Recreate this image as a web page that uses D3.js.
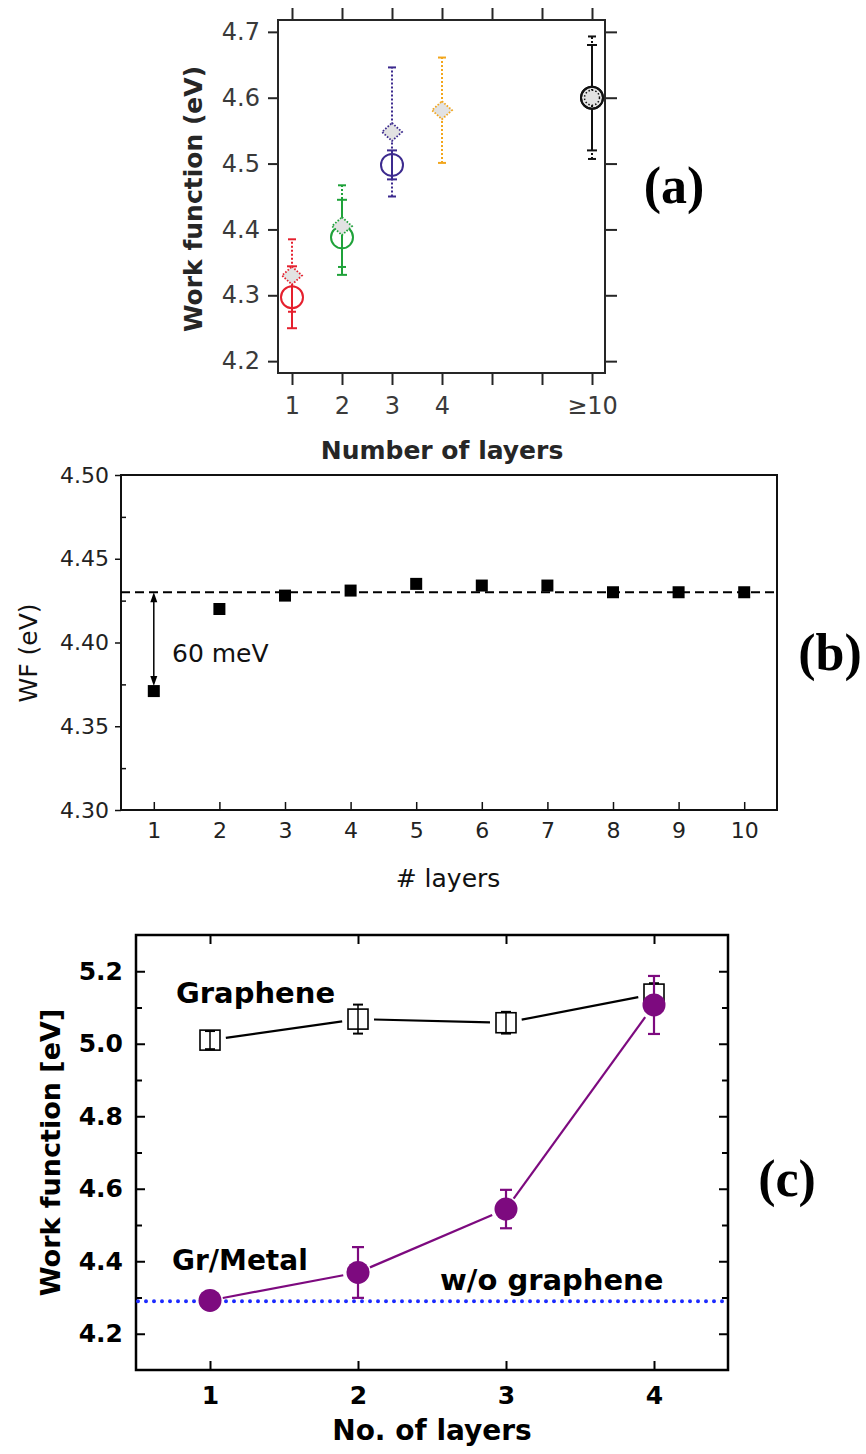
<!DOCTYPE html>
<html><head><meta charset="utf-8">
<script src="https://cdn.jsdelivr.net/npm/d3@7"></script>
<style>
html,body{margin:0;padding:0;background:#fff;}
svg{display:block;}
</style></head>
<body>
<svg id="chart" width="866" height="1454"></svg>
<script>
// ---------- Panel (a) data ----------
const aTickPos = [1, 2, 3, 4, 5, 6, 7];
const aTickLabels = ["1", "2", "3", "4", "", "", "\u226510"];
const aYTicks = [4.2, 4.3, 4.4, 4.5, 4.6, 4.7];
const aColors = ["#e5202e", "#1fa23a", "#3c2a8e", "#f2a61d", "#111111"];
const aCircleX = [1, 2, 3, 7];
const aCircleVal = [4.297, 4.388, 4.498, 4.600];
const aCircleErr = [0.047, 0.057, 0.022, 0.080];
const aCircleColor = [0, 1, 2, 4];
const aDiamondX = [1, 2, 3, 4, 7];
const aDiamondVal = [4.330, 4.405, 4.548, 4.581, 4.600];
const aDiamondErr = [0.055, 0.062, 0.098, 0.080, 0.093];
const aDiamondColor = [0, 1, 2, 3, 4];

// ---------- Panel (b) data ----------
const bLayers = [1, 2, 3, 4, 5, 6, 7, 8, 9, 10];
const bWF = [4.371, 4.420, 4.428, 4.431, 4.435, 4.434, 4.434, 4.430, 4.430, 4.430];
const bYTicks = [4.30, 4.35, 4.40, 4.45, 4.50];
const bYMinor = [4.325, 4.375, 4.425, 4.475];
const bRef = 4.43;
const bArrowBottom = 4.374;

// ---------- Panel (c) data ----------
const cLayers = [1, 2, 3, 4];
const cGraphene = [5.010, 5.068, 5.058, 5.137];
const cGrapheneErr = [0.025, 0.040, 0.030, 0.030];
const cMetal = [4.292, 4.369, 4.544, 5.107];
const cMetalErr = [0.020, 0.070, 0.053, 0.080];
const cBare = 4.29;
const cYTicks = [4.2, 4.4, 4.6, 4.8, 5.0, 5.2];
const cYMinor = [4.3, 4.5, 4.7, 4.9, 5.1];

const svg = d3.select("#chart");
svg.append("rect").attr("width", 866).attr("height", 1454).attr("fill", "#fff");
const SANS = "'DejaVu Sans', sans-serif";
const SERIF = "'Liberation Serif', 'Times New Roman', serif";

function styleAxis(g, color, width, font, size, weight) {
  g.select(".domain").remove();
  g.selectAll(".tick line").attr("stroke", color).attr("stroke-width", width);
  g.selectAll(".tick text").attr("fill", color === "#000" ? "#000" : "#333")
    .style("font-family", font).style("font-size", size + "px").style("font-weight", weight);
}

// ================= Panel (a) =================
{
  const L = 278, R = 605, T = 20, B = 373;
  const x = d3.scaleLinear().domain([0.72, 7.26]).range([L, R]);
  const y = d3.scaleLinear().domain([4.182, 4.718]).range([B, T]);
  const g = svg.append("g");
  const col = "#262626";

  const ax = g.append("g").attr("transform", `translate(${L},0)`)
    .call(d3.axisLeft(y).tickValues(aYTicks).tickSize(10).tickPadding(8).tickFormat(d3.format(".1f")));
  styleAxis(ax, col, 2, SANS, 24, "normal");
  ax.selectAll(".tick text").attr("fill", "#3a3a3a");
  const axr = g.append("g").attr("transform", `translate(${R},0)`)
    .call(d3.axisRight(y).tickValues(aYTicks).tickSize(12).tickFormat(""));
  styleAxis(axr, col, 2, SANS, 24, "normal");
  const axt = g.append("g").attr("transform", `translate(0,${T})`)
    .call(d3.axisTop(x).tickValues(aTickPos).tickSize(12).tickFormat(""));
  styleAxis(axt, col, 2, SANS, 24, "normal");
  const axb = g.append("g").attr("transform", `translate(0,${B})`)
    .call(d3.axisBottom(x).tickValues(aTickPos).tickSize(12).tickPadding(12).tickFormat((d, i) => aTickLabels[i]));
  styleAxis(axb, col, 2, SANS, 24, "normal");
  axb.selectAll(".tick text").attr("fill", "#3a3a3a");

  g.append("rect").attr("x", L).attr("y", T).attr("width", R - L).attr("height", B - T)
    .attr("fill", "none").attr("stroke", col).attr("stroke-width", 2);

  // circle error bars (solid)
  aCircleX.forEach((xv, i) => {
    const c = aColors[aCircleColor[i]];
    const cx = x(xv), y1 = y(aCircleVal[i] - aCircleErr[i]), y2 = y(aCircleVal[i] + aCircleErr[i]);
    g.append("line").attr("x1", cx).attr("x2", cx).attr("y1", y1).attr("y2", y2).attr("stroke", c).attr("stroke-width", 2);
    [y1, y2].forEach(yy => g.append("line").attr("x1", cx - 5).attr("x2", cx + 5).attr("y1", yy).attr("y2", yy).attr("stroke", c).attr("stroke-width", 2));
  });
  // circles
  aCircleX.forEach((xv, i) => {
    const c = aColors[aCircleColor[i]];
    g.append("circle").attr("cx", x(xv)).attr("cy", y(aCircleVal[i])).attr("r", 11)
      .attr("fill", aCircleColor[i] === 4 ? "#e6e6e6" : "none").attr("stroke", c).attr("stroke-width", 2);
  });
  // diamond error bars (dotted)
  aDiamondX.forEach((xv, i) => {
    const c = aColors[aDiamondColor[i]];
    const cx = x(xv), y1 = y(aDiamondVal[i] - aDiamondErr[i]), y2 = y(aDiamondVal[i] + aDiamondErr[i]);
    g.append("line").attr("x1", cx).attr("x2", cx).attr("y1", y1).attr("y2", y2).attr("stroke", c)
      .attr("stroke-width", 2).attr("stroke-dasharray", "2,2");
    [y1, y2].forEach(yy => g.append("line").attr("x1", cx - 4).attr("x2", cx + 4).attr("y1", yy).attr("y2", yy).attr("stroke", c).attr("stroke-width", 2));
  });
  // diamonds
  aDiamondX.forEach((xv, i) => {
    const c = aColors[aDiamondColor[i]];
    const cx = x(xv), cy = y(aDiamondVal[i]);
    if (aDiamondColor[i] === 4) {
      g.append("circle").attr("cx", cx).attr("cy", cy).attr("r", 7.5).attr("fill", "#e2e2e2")
        .attr("stroke", c).attr("stroke-width", 1.5).attr("stroke-dasharray", "1.5,2");
      g.append("circle").attr("cx", cx).attr("cy", cy).attr("r", 11).attr("fill", "none").attr("stroke", c).attr("stroke-width", 2);
    } else {
      g.append("path").attr("d", `M${cx},${cy - 9}L${cx + 10},${cy}L${cx},${cy + 9}L${cx - 10},${cy}Z`)
        .attr("fill", "#e2e2e2").attr("stroke", c).attr("stroke-width", 1.8).attr("stroke-dasharray", "1.6,1.6");
    }
  });

  g.append("text").attr("x", 442).attr("y", 459).attr("text-anchor", "middle")
    .style("font-family", SANS).style("font-size", "25px").style("font-weight", "bold").attr("fill", "#262626")
    .text("Number of layers");
  g.append("text").attr("transform", `translate(202,199) rotate(-90)`).attr("text-anchor", "middle")
    .style("font-family", SANS).style("font-size", "25px").style("font-weight", "bold").attr("fill", "#262626")
    .text("Work function (eV)");
  g.append("text").attr("x", 674).attr("y", 203).attr("text-anchor", "middle")
    .style("font-family", SERIF).style("font-size", "52px").style("font-weight", "bold").attr("fill", "#000")
    .text("(a)");
}

// ================= Panel (b) =================
{
  const L = 121, R = 777, T = 475, B = 810;
  const x = d3.scaleLinear().domain([0.5, 10.5]).range([L, R]);
  const y = d3.scaleLinear().domain([4.30, 4.50]).range([B, T]);
  const g = svg.append("g");
  const col = "#111";

  const ax = g.append("g").attr("transform", `translate(${L},0)`)
    .call(d3.axisLeft(y).tickValues(bYTicks).tickSize(6).tickPadding(6).tickFormat(d3.format(".2f")));
  styleAxis(ax, col, 1.5, SANS, 22, "normal");
  ax.selectAll(".tick text").attr("fill", "#222");
  const axm = g.append("g").attr("transform", `translate(${L},0)`)
    .call(d3.axisLeft(y).tickValues(bYMinor).tickSize(-5).tickFormat(""));
  styleAxis(axm, col, 1.5, SANS, 22, "normal");
  const axb = g.append("g").attr("transform", `translate(0,${B})`)
    .call(d3.axisBottom(x).tickValues(bLayers).tickSize(-8).tickPadding(12).tickFormat(d3.format("d")));
  styleAxis(axb, col, 1.5, SANS, 22, "normal");
  axb.selectAll(".tick text").attr("fill", "#222");

  g.append("rect").attr("x", L).attr("y", T).attr("width", R - L).attr("height", B - T)
    .attr("fill", "none").attr("stroke", col).attr("stroke-width", 2);

  g.append("line").attr("x1", L).attr("x2", R).attr("y1", y(bRef)).attr("y2", y(bRef))
    .attr("stroke", "#000").attr("stroke-width", 2).attr("stroke-dasharray", "9,5");

  // double arrow
  const axv = x(bLayers[0]);
  const ya = y(bRef), yb = y(bArrowBottom);
  g.append("line").attr("x1", axv).attr("x2", axv).attr("y1", ya + 6).attr("y2", yb - 6).attr("stroke", "#000").attr("stroke-width", 1.5);
  g.append("path").attr("d", `M${axv},${ya}L${axv - 3.5},${ya + 10}L${axv + 3.5},${ya + 10}Z`).attr("fill", "#000");
  g.append("path").attr("d", `M${axv},${yb}L${axv - 3.5},${yb - 10}L${axv + 3.5},${yb - 10}Z`).attr("fill", "#000");

  g.selectAll("rect.pt").data(bLayers).enter().append("rect").attr("class", "pt")
    .attr("x", d => x(d) - 6).attr("y", (d, i) => y(bWF[i]) - 6).attr("width", 12).attr("height", 12).attr("fill", "#000");

  g.append("text").attr("x", 172).attr("y", 662)
    .style("font-family", SANS).style("font-size", "25px").attr("fill", "#111").text("60 meV");
  g.append("text").attr("x", 448).attr("y", 887).attr("text-anchor", "middle")
    .style("font-family", SANS).style("font-size", "25px").attr("fill", "#111").text("# layers");
  g.append("text").attr("transform", `translate(37,653) rotate(-90)`).attr("text-anchor", "middle")
    .style("font-family", SANS).style("font-size", "25px").attr("fill", "#111").text("WF (eV)");
  g.append("text").attr("x", 830).attr("y", 670).attr("text-anchor", "middle")
    .style("font-family", SERIF).style("font-size", "52px").style("font-weight", "bold").attr("fill", "#000").text("(b)");
}

// ================= Panel (c) =================
{
  const L = 136, R = 728, T = 935, B = 1370;
  const x = d3.scaleLinear().domain([0.5, 4.5]).range([L, R]);
  const y = d3.scaleLinear().domain([4.1, 5.3]).range([B, T]);
  const g = svg.append("g");
  const col = "#000";
  const purple = "#7d0a7f";

  const ax = g.append("g").attr("transform", `translate(${L},0)`)
    .call(d3.axisLeft(y).tickValues(cYTicks).tickSize(-9).tickPadding(13).tickFormat(d3.format(".1f")));
  styleAxis(ax, col, 2, SANS, 25, "bold");
  const axm = g.append("g").attr("transform", `translate(${L},0)`)
    .call(d3.axisLeft(y).tickValues(cYMinor).tickSize(-6).tickFormat(""));
  styleAxis(axm, col, 2, SANS, 25, "bold");
  const axr = g.append("g").attr("transform", `translate(${R},0)`)
    .call(d3.axisRight(y).tickValues(cYTicks).tickSize(-9).tickFormat(""));
  styleAxis(axr, col, 2, SANS, 25, "bold");
  const axrm = g.append("g").attr("transform", `translate(${R},0)`)
    .call(d3.axisRight(y).tickValues(cYMinor).tickSize(-6).tickFormat(""));
  styleAxis(axrm, col, 2, SANS, 25, "bold");
  const axt = g.append("g").attr("transform", `translate(0,${T})`)
    .call(d3.axisTop(x).tickValues(cLayers).tickSize(-9).tickFormat(""));
  styleAxis(axt, col, 2, SANS, 25, "bold");
  const axb = g.append("g").attr("transform", `translate(0,${B})`)
    .call(d3.axisBottom(x).tickValues(cLayers).tickSize(-9).tickPadding(16).tickFormat(d3.format("d")));
  styleAxis(axb, col, 2, SANS, 25, "bold");

  g.append("rect").attr("x", L).attr("y", T).attr("width", R - L).attr("height", B - T)
    .attr("fill", "none").attr("stroke", col).attr("stroke-width", 2.5);

  // bare metal reference (dotted blue)
  g.append("line").attr("x1", L + 2).attr("x2", R).attr("y1", y(cBare)).attr("y2", y(cBare))
    .attr("stroke", "#1e2cff").attr("stroke-width", 4).attr("stroke-linecap", "round").attr("stroke-dasharray", "0,8");

  function seg(x1, y1, x2, y2, r1, r2) {
    const dx = x2 - x1, dy = y2 - y1, len = Math.hypot(dx, dy);
    return [x1 + dx / len * r1, y1 + dy / len * r1, x2 - dx / len * r2, y2 - dy / len * r2];
  }
  // graphene line
  for (let i = 0; i < cLayers.length - 1; i++) {
    const s = seg(x(cLayers[i]), y(cGraphene[i]), x(cLayers[i + 1]), y(cGraphene[i + 1]), 16, 16);
    g.append("line").attr("x1", s[0]).attr("y1", s[1]).attr("x2", s[2]).attr("y2", s[3]).attr("stroke", "#000").attr("stroke-width", 2.2);
  }
  cLayers.forEach((l, i) => {
    const cx = x(l), cy = y(cGraphene[i]);
    g.append("rect").attr("x", cx - 10).attr("y", cy - 10).attr("width", 20).attr("height", 20)
      .attr("fill", "#fff").attr("stroke", "#000").attr("stroke-width", 1.6);
    const y1 = y(cGraphene[i] - cGrapheneErr[i]), y2 = y(cGraphene[i] + cGrapheneErr[i]);
    g.append("line").attr("x1", cx).attr("x2", cx).attr("y1", y1).attr("y2", y2).attr("stroke", "#000").attr("stroke-width", 1.5);
    [y1, y2].forEach(yy => g.append("line").attr("x1", cx - 5).attr("x2", cx + 5).attr("y1", yy).attr("y2", yy).attr("stroke", "#000").attr("stroke-width", 2));
  });
  // Gr/Metal line
  for (let i = 0; i < cLayers.length - 1; i++) {
    const s = seg(x(cLayers[i]), y(cMetal[i]), x(cLayers[i + 1]), y(cMetal[i + 1]), 13, 15);
    g.append("line").attr("x1", s[0]).attr("y1", s[1]).attr("x2", s[2]).attr("y2", s[3]).attr("stroke", purple).attr("stroke-width", 2.2);
  }
  cLayers.forEach((l, i) => {
    const cx = x(l), cy = y(cMetal[i]);
    const y1 = y(cMetal[i] - cMetalErr[i]), y2 = y(cMetal[i] + cMetalErr[i]);
    g.append("line").attr("x1", cx).attr("x2", cx).attr("y1", y1).attr("y2", y2).attr("stroke", purple).attr("stroke-width", 2.2);
    [y1, y2].forEach(yy => g.append("line").attr("x1", cx - 6).attr("x2", cx + 6).attr("y1", yy).attr("y2", yy).attr("stroke", purple).attr("stroke-width", 2.2));
    g.append("circle").attr("cx", cx).attr("cy", cy).attr("r", 11.5).attr("fill", purple);
  });

  const bold = (t, xx, yy, size, anchor) => g.append("text").attr("x", xx).attr("y", yy).attr("text-anchor", anchor || "start")
    .style("font-family", SANS).style("font-size", size + "px").style("font-weight", "bold").attr("fill", "#000").text(t);
  bold("Graphene", 176, 1003, 29);
  bold("Gr/Metal", 172, 1270, 28);
  bold("w/o graphene", 440, 1290, 29);
  bold("No. of layers", 432, 1440, 28, "middle");
  g.append("text").attr("transform", `translate(60,${(T + B) / 2}) rotate(-90)`).attr("text-anchor", "middle")
    .style("font-family", SANS).style("font-size", "27px").style("font-weight", "bold").attr("fill", "#000")
    .text("Work function [eV]");
  g.append("text").attr("x", 787).attr("y", 1196).attr("text-anchor", "middle")
    .style("font-family", SERIF).style("font-size", "52px").style("font-weight", "bold").attr("fill", "#000").text("(c)");
}
</script>
</body></html>
